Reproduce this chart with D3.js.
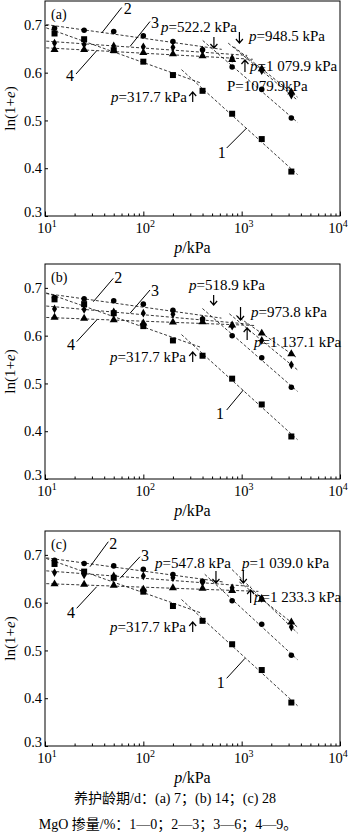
<!DOCTYPE html>
<html>
<head>
<meta charset="utf-8">
<script src="https://cdn.jsdelivr.net/npm/d3@7"></script>
<style>
body { margin: 0; background: #fff; }
svg { display: block; font-family: "Liberation Serif", "Times New Roman", serif; }
</style>
</head>
<body>
<div id="chart"></div>
<script>
// pressures (kPa) shared by every curve
var pressure = [12.5, 25, 50, 100, 200, 400, 800, 1600, 3200];

// ln(1+e), curing 7 d
var a_mg0 = [0.682, 0.670, 0.647, 0.623, 0.595, 0.562, 0.514, 0.461, 0.393];
var a_mg3 = [0.693, 0.689, 0.686, 0.677, 0.665, 0.648, 0.612, 0.565, 0.505];
var a_mg6 = [0.662, 0.659, 0.656, 0.654, 0.653, 0.647, 0.630, 0.604, 0.553];
var a_mg9 = [0.648, 0.648, 0.646, 0.642, 0.639, 0.635, 0.627, 0.608, 0.559];
// curing 14 d
var b_mg0 = [0.676, 0.666, 0.647, 0.620, 0.590, 0.558, 0.510, 0.456, 0.389];
var b_mg3 = [0.680, 0.677, 0.673, 0.666, 0.653, 0.635, 0.600, 0.554, 0.492];
var b_mg6 = [0.656, 0.655, 0.650, 0.647, 0.645, 0.634, 0.620, 0.590, 0.539];
var b_mg9 = [0.638, 0.636, 0.633, 0.626, 0.628, 0.629, 0.622, 0.605, 0.562];
// curing 28 d
var c_mg0 = [0.681, 0.665, 0.652, 0.623, 0.593, 0.562, 0.513, 0.459, 0.391];
var c_mg3 = [0.689, 0.682, 0.677, 0.670, 0.659, 0.645, 0.604, 0.555, 0.490];
var c_mg6 = [0.663, 0.658, 0.656, 0.656, 0.652, 0.642, 0.631, 0.609, 0.549];
var c_mg9 = [0.639, 0.638, 0.636, 0.628, 0.631, 0.630, 0.625, 0.607, 0.559];

// yield pressures (kPa), order: curve 1..4
var yieldA = [317.7, 522.2, 948.5, 1079.9];
var yieldB = [317.7, 518.9, 973.8, 1137.1];
var yieldC = [317.7, 547.8, 1039.0, 1233.3];

var panelNames = ["(a)", "(b)", "(c)"];
var curveNames = ["1", "2", "3", "4"];
var yTicks = [0.3, 0.4, 0.5, 0.6, 0.7];
var xTickExp = [1, 2, 3, 4];
var caption1 = "养护龄期/d：(a) 7；(b) 14；(c) 28";
var caption2 = "MgO 掺量/%：1—0；2—3；3—6；4—9。";

// layout only (pixels, y relative to panel top)
var arrowLayout = [
  [{dir: "up", y0: 91, y1: 101, tx: 187, ty: 101, anchor: "end"},
   {dir: "down", y0: 36, y1: 47, tx: 161, ty: 31, anchor: "start"},
   {dir: "down", y0: 31, y1: 42, tx: 249, ty: 40, anchor: "start"},
   {dir: "up", y0: 59, y1: 71, tx: 250, ty: 70, anchor: "start"}],
  [{dir: "up", y0: 88, y1: 98, tx: 186, ty: 98, anchor: "end"},
   {dir: "down", y0: 31, y1: 41, tx: 189, ty: 26, anchor: "start"},
   {dir: "down", y0: 43, y1: 56, tx: 251, ty: 53, anchor: "start"},
   {dir: "up", y0: 64, y1: 76, tx: 254, ty: 83, anchor: "start"}],
  [{dir: "up", y0: 91, y1: 101, tx: 186, ty: 101, anchor: "end"},
   {dir: "down", y0: 40, y1: 52, tx: 155, ty: 37, anchor: "start"},
   {dir: "down", y0: 39, y1: 52, tx: 242, ty: 37, anchor: "start"},
   {dir: "up", y0: 59, y1: 72, tx: 254, ty: 71, anchor: "start"}]
];
var leaderLayout = [
  [{x1: 226.7, y1: 147, x2: 246.7, y2: 127, tx: 221.7, ty: 157},
   {x1: 101.7, y1: 32, x2: 121.7, y2: 6.5, tx: 127.7, ty: 13},
   {x1: 130, y1: 45.5, x2: 150, y2: 20.5, tx: 155, ty: 27},
   {x1: 76, y1: 73, x2: 96.7, y2: 49.7, tx: 70, ty: 80}],
  [{x1: 226.7, y1: 146, x2: 243.3, y2: 126, tx: 220, ty: 155},
   {x1: 93.3, y1: 37.7, x2: 113.3, y2: 14.3, tx: 118.3, ty: 19},
   {x1: 130, y1: 49.3, x2: 150, y2: 26, tx: 155, ty: 32},
   {x1: 76.7, y1: 77.7, x2: 96.7, y2: 56, tx: 71, ty: 86}],
  [{x1: 226.7, y1: 147.3, x2: 245, y2: 127.3, tx: 220.7, ty: 157},
   {x1: 90, y1: 35.7, x2: 108.3, y2: 10.7, tx: 113.3, ty: 18},
   {x1: 120, y1: 47.3, x2: 140, y2: 25.7, tx: 145, ty: 30},
   {x1: 76.7, y1: 77.3, x2: 96.7, y2: 55.7, tx: 71, ty: 87}]
];

var panels = [
  {top: 1, series: [a_mg0, a_mg3, a_mg6, a_mg9], yields: yieldA},
  {top: 264, series: [b_mg0, b_mg3, b_mg6, b_mg9], yields: yieldB},
  {top: 531, series: [c_mg0, c_mg3, c_mg6, c_mg9], yields: yieldC}
];

var w = 350, h = 835;
var left = 45, right = 340, ph = 215;

var svg = d3.select("#chart").append("svg")
    .attr("width", w)
    .attr("height", h);

var x = d3.scaleLog().domain([10, 10000]).range([left, right]);
var symbols = [d3.symbolSquare, d3.symbolCircle, d3.symbolDiamond, d3.symbolTriangle];
var symSize = [36, 24, 22, 28];

var fmt = d3.formatLocale({decimal: ".", thousands: " ", grouping: [3]}).format(",.1f");

function fit(px, py) {
    var lx = px.map(function (p) { return Math.log10(p); });
    var mx = d3.mean(lx), my = d3.mean(py);
    var sxy = 0, sxx = 0;
    for (var i = 0; i < lx.length; i++) {
        sxy += (lx[i] - mx) * (py[i] - my);
        sxx += (lx[i] - mx) * (lx[i] - mx);
    }
    var k = sxy / sxx;
    return function (p) { return my + k * (Math.log10(p) - mx); };
}

panels.forEach(function (pn, pi) {
    var g = svg.append("g").attr("transform", "translate(0," + pn.top + ")");
    var y = d3.scaleLinear().domain([0.3, 0.75]).range([ph, 0]);

    // x axis, ticks inside
    var minor = [];
    [10, 100, 1000].forEach(function (d) {
        for (var m = 2; m <= 9; m++) minor.push(d * m);
    });
    g.append("g")
        .attr("transform", "translate(0," + ph + ")")
        .call(d3.axisBottom(x).tickValues(minor).tickSizeInner(-2.5).tickSizeOuter(0).tickFormat(""))
        .call(function (s) { s.select(".domain").remove(); });
    g.append("g")
        .attr("transform", "translate(0," + ph + ")")
        .call(d3.axisBottom(x).tickValues(xTickExp.map(function (e) { return Math.pow(10, e); }))
            .tickSizeInner(-4.5).tickSizeOuter(0).tickFormat(""))
        .call(function (s) { s.select(".domain").remove(); });

    var xl = g.selectAll("text.xl")
        .data(xTickExp)
        .enter()
        .append("text")
        .attr("class", "xl")
        .attr("x", function (e) { return x(Math.pow(10, e)) + (e === 4 ? -2 : 2); })
        .attr("y", ph + 17)
        .attr("text-anchor", "middle")
        .attr("font-size", 14.5);
    xl.append("tspan").text("10");
    xl.append("tspan").attr("dy", -6).attr("font-size", 10).text(function (e) { return e; });

    // y axis
    g.append("g")
        .attr("transform", "translate(" + left + ",0)")
        .call(d3.axisLeft(y).tickValues(yTicks).tickSizeInner(-3).tickSizeOuter(0).tickPadding(3)
            .tickFormat(d3.format(".1f")))
        .call(function (s) {
            s.select(".domain").remove();
            s.selectAll("text").attr("font-size", 14.5).attr("fill", "#000")
                .attr("font-family", "Liberation Serif")
                .attr("dy", function (d) { return d === 0.3 ? "0.05em" : "0.32em"; });
        });

    g.append("rect")
        .attr("x", left).attr("y", 0)
        .attr("width", right - left).attr("height", ph)
        .attr("fill", "none").attr("stroke", "#000").attr("stroke-width", 1);

    g.append("text")
        .attr("transform", "translate(15," + (ph / 2) + ") rotate(-90)")
        .attr("text-anchor", "middle")
        .attr("font-size", 15)
        .html('ln(1+<tspan font-style="italic">e</tspan>)');

    g.append("text")
        .attr("x", (left + right) / 2)
        .attr("y", ph + 37)
        .attr("text-anchor", "middle")
        .attr("font-size", 16)
        .html('<tspan font-style="italic">p</tspan>/kPa');

    g.append("text")
        .attr("x", 51).attr("y", 18)
        .attr("font-size", 14)
        .text(panelNames[pi]);

    // two fitted dashed lines per curve, meeting near the yield pressure
    pn.series.forEach(function (vals, si) {
        var yp = pn.yields[si];
        var preP = [], preV = [], postP = [], postV = [];
        pressure.forEach(function (p, k) {
            if (p < yp) { preP.push(p); preV.push(vals[k]); }
            else { postP.push(p); postV.push(vals[k]); }
        });
        var f1 = fit(preP, preV), f2 = fit(postP, postV);
        var segs = [[10.3, yp * 1.2, f1], [yp / 1.3, 3700, f2]];
        segs.forEach(function (s) {
            g.append("line")
                .attr("x1", x(s[0])).attr("y1", y(s[2](s[0])))
                .attr("x2", x(s[1])).attr("y2", y(s[2](s[1])))
                .attr("stroke", "#222")
                .attr("stroke-width", 0.9)
                .attr("stroke-dasharray", "3,2");
        });
    });

    pn.series.forEach(function (vals, si) {
        g.selectAll("path.m" + si)
            .data(vals)
            .enter()
            .append("path")
            .attr("class", "m" + si)
            .attr("transform", function (d, k) {
                return "translate(" + x(pressure[k]) + "," + y(d) + ")";
            })
            .attr("d", d3.symbol().type(symbols[si]).size(symSize[si]))
            .attr("fill", "#000");
    });

    // yield arrows and labels
    pn.yields.forEach(function (yp, si) {
        var a = arrowLayout[pi][si];
        var ax = x(yp);
        var tip = a.dir === "down" ? a.y1 : a.y0;
        var back = a.dir === "down" ? -4 : 4;
        g.append("path")
            .attr("d", "M" + ax + "," + a.y0 + "V" + a.y1 +
                "M" + (ax - 3.5) + "," + (tip + back) + "L" + ax + "," + tip + "L" + (ax + 3.5) + "," + (tip + back))
            .attr("fill", "none")
            .attr("stroke", "#000")
            .attr("stroke-width", 1.2);
        g.append("text")
            .attr("x", a.tx).attr("y", a.ty)
            .attr("text-anchor", a.anchor)
            .attr("font-size", 15)
            .html('<tspan font-style="italic">p</tspan>=' + fmt(yp) + " kPa");
    });

    if (pi === 0) {
        g.append("text")
            .attr("x", 227).attr("y", 90)
            .attr("font-size", 15)
            .text("P=" + pn.yields[3].toFixed(1) + "kPa");
    }

    leaderLayout[pi].forEach(function (l, si) {
        g.append("line")
            .attr("x1", l.x1).attr("y1", l.y1)
            .attr("x2", l.x2).attr("y2", l.y2)
            .attr("stroke", "#000").attr("stroke-width", 1);
        g.append("text")
            .attr("x", l.tx).attr("y", l.ty)
            .attr("text-anchor", "middle")
            .attr("font-size", 16)
            .text(curveNames[si]);
    });
});

svg.append("text")
    .attr("x", 175).attr("y", 803)
    .attr("text-anchor", "middle")
    .attr("font-size", 14)
    .attr("font-family", "Liberation Serif, Noto Sans CJK SC")
    .text(caption1);

svg.append("text")
    .attr("x", 168).attr("y", 829)
    .attr("text-anchor", "middle")
    .attr("font-size", 14)
    .attr("font-family", "Liberation Serif, Noto Sans CJK SC")
    .text(caption2);
</script>
</body>
</html>
